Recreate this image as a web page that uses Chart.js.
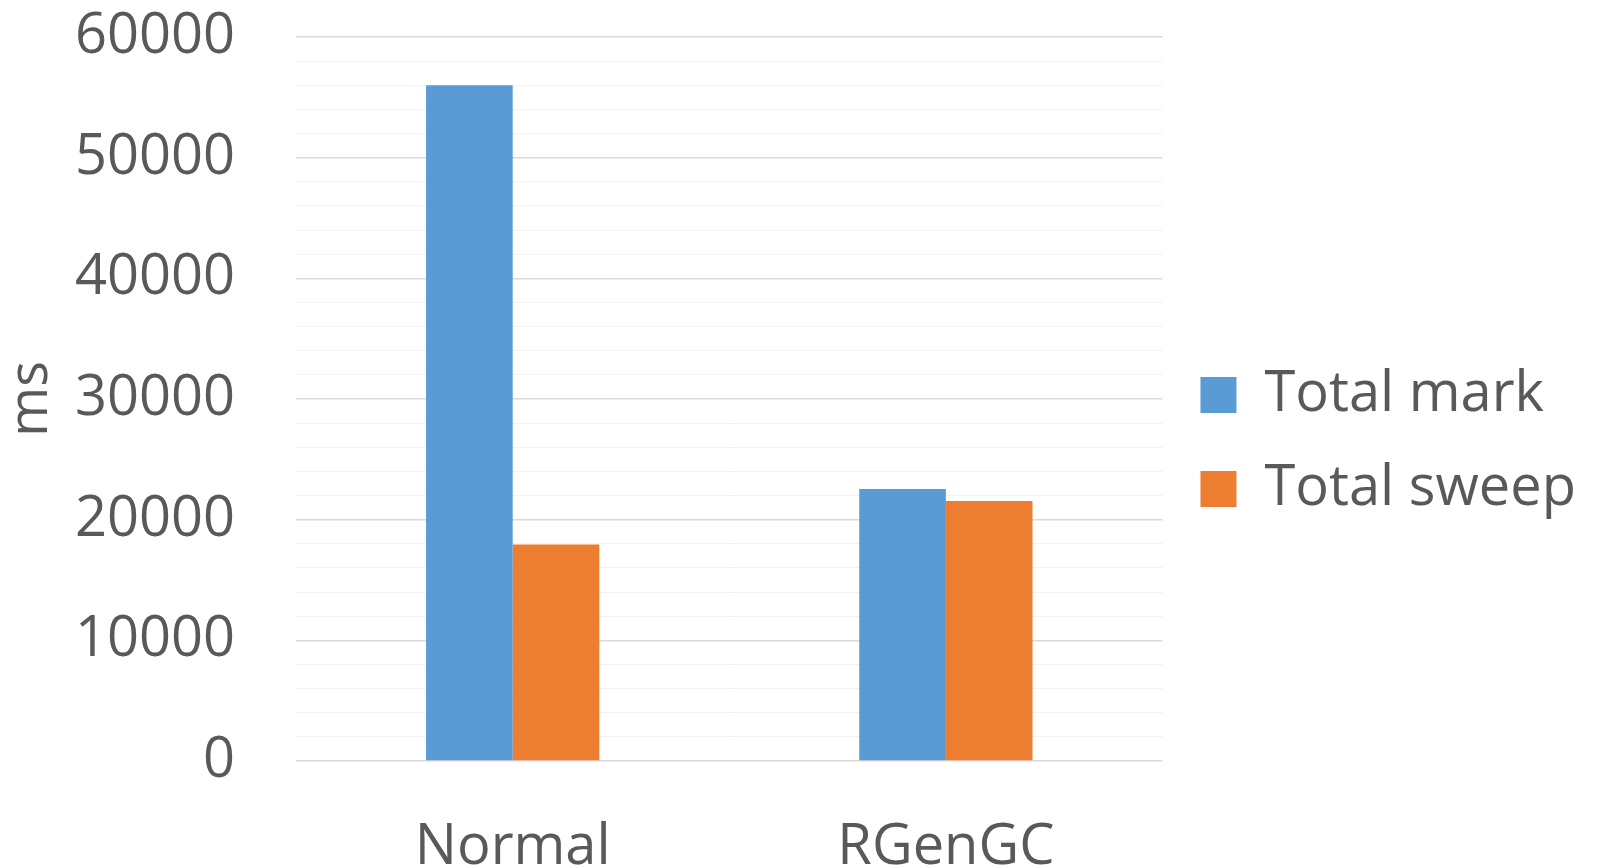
<!DOCTYPE html>
<html>
<head>
<meta charset="utf-8">
<script src="https://cdn.jsdelivr.net/npm/chart.js@4"></script>
<style>
  html, body { margin: 0; padding: 0; background: #ffffff; }
  #wrap { width: 1597px; height: 868px; }
</style>
</head>
<body>
<div id="wrap"><canvas id="c" width="1597" height="868"></canvas></div>
<script>
const categories = ["Normal", "RGenGC"];
const totalMark = [56000, 22550];
const totalSweep = [17950, 21550];
const seriesNames = ["Total mark", "Total sweep"];
const yTitle = "ms";
const yMin = 0, yMax = 60000, yMinorStep = 2000, yMajorStep = 10000;

const textColor = "#595959";
const ctx = document.getElementById("c").getContext("2d");
new Chart(ctx, {
  type: "bar",
  data: {
    labels: categories,
    datasets: [
      { label: seriesNames[0], data: totalMark, backgroundColor: "#5B9BD5", borderWidth: 0 },
      { label: seriesNames[1], data: totalSweep, backgroundColor: "#ED7D31", borderWidth: 0 }
    ]
  },
  options: {
    responsive: false,
    animation: false,
    devicePixelRatio: 1,
    layout: { padding: { top: 37, bottom: -8, left: -120, right: 11 } },
    datasets: { bar: { barPercentage: 1.0, categoryPercentage: 0.4 } },
    plugins: {
      tooltip: { enabled: false },
      legend: {
        position: "right",
        align: "center",
        fullSize: false,
        title: { display: true, text: " ", font: { family: "Open Sans", size: 40, lineHeight: 1 }, padding: 23 },
        labels: {
          font: { family: "Open Sans", size: 56 },
          color: textColor,
          boxWidth: 36,
          boxHeight: 36,
          padding: 38
        }
      }
    },
    scales: {
      x: {
        grid: { display: true, drawOnChartArea: false, drawTicks: true, tickLength: 59, color: "rgba(0,0,0,0)", tickColor: "rgba(0,0,0,0)" },
        border: { display: false },
        ticks: { color: textColor, font: { family: "Open Sans", size: 56, lineHeight: 1 }, padding: 0 }
      },
      y: {
        min: yMin, max: yMax,
        border: { display: false },
        grid: {
          drawTicks: true,
          tickLength: 61,
          tickColor: "rgba(0,0,0,0)",
          color: (c) => (c.tick && c.tick.value % yMajorStep === 0) ? "#D9D9D9" : "#F2F2F2",
          lineWidth: (c) => (c.tick && c.tick.value % yMajorStep === 0) ? 1.5 : 1
        },
        ticks: {
          stepSize: yMinorStep,
          autoSkip: false,
          color: textColor,
          font: { family: "Open Sans", size: 56 },
          padding: 0,
          callback: (v) => (v % yMajorStep === 0 ? String(v) : "")
        },
        title: {
          display: true, text: yTitle, color: textColor,
          font: { family: "Open Sans", size: 54, lineHeight: 1 },
          padding: { top: 125, bottom: 16 }
        }
      }
    }
  }
});
</script>
</body>
</html>
